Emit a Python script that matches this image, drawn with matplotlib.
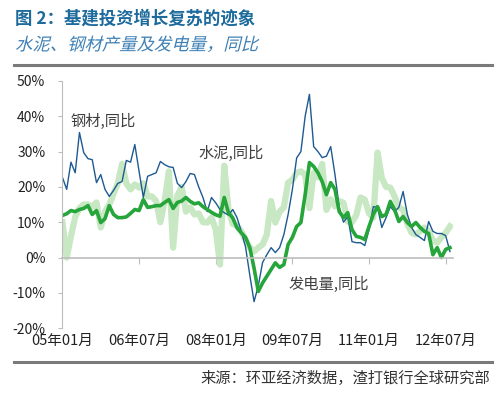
import matplotlib
matplotlib.use("Agg")
import matplotlib.pyplot as plt
import matplotlib.patheffects as pe
from matplotlib.transforms import Affine2D
import numpy as np

plt.rcParams['font.family'] = ['Noto Sans CJK SC', 'DejaVu Sans']

# monthly, 2005-01 .. 2012-08 (yoy %)
steel = [22.7, 19.3, 27, 24, 35.4, 29.7, 28, 27.7, 21.2, 23.5, 19.3, 17.3,
         19, 21, 21.5, 27.5, 27, 32, 24.4, 17, 23, 23.5, 24, 27.2,
         26.3, 25.7, 25.5, 21, 19.8, 21.5, 23.8, 23.5, 20, 17, 13, 17,
         15.5, 13.6, 12.7, 12, 13.6, 11.3, 7.4, 3, -5, -12.5, -8, -1.4,
         0.8, 2.8, 1.4, 2.8, 6.5, 12.2, 19.3, 28.2, 30, 40, 46.2, 31.4,
         30, 28.3, 28.7, 31.4, 23.5, 14.2, 10, 11.6, 4.5, 4.2, 4.2, 3.4,
         7.9, 14.4, 14.2, 8.5, 11.3, 14.4, 13, 14.2, 18.7, 12.2, 8.5, 6.5,
         5.7, 4.8, 10.2, 7.4, 6.8, 6.8, 6.2, 1.7]

cement = [10, 0, 6, 11.5, 14, 15, 15, 14.4, 15.6, 8.5, 13, 15,
          18, 21, 26.5, 21, 19.3, 20.7, 19.8, 21, 17.3, 17.3, 16, 10,
          16, 24.4, 2.8, 17.5, 20, 13, 14.2, 12.2, 12.5, 10, 9.9, 11.3,
          8, -2, 26, 13.5, 9.5, 9, 7.4, 5, 2.8, 1.7, 2.8, 3.7,
          6.5, 16, 9.9, 13, 14.2, 21.2, 22, 24, 24.4, 23.5, 14, 24,
          22.7, 26.5, 13.5, 16.5, 14.5, 16, 15.5, 10.2, 10, 12, 17, 16.4,
          12.5, 11.3, 29.7, 22.5, 20, 19.8, 17.3, 14.2, 13.5, 9.5, 7, 6.5,
          7.5, 8.5, 7.5, 4.8, 4.2, 5.7, 7, 8.8]

power = [11.9, 12.4, 13.3, 13, 13.6, 13.9, 14.7, 12.2, 13.3, 9.9, 11, 14.7,
         12.2, 11.3, 11.3, 11.5, 12.5, 13.6, 13.3, 16.4, 14.2, 14.4, 14.7, 14.7,
         15.6, 16.4, 13.9, 15.6, 16, 17, 15.9, 15.2, 15.5, 14.4, 13.6, 12.8,
         12.1, 11.7, 17, 12.7, 11.2, 8.4, 7, 5.7, 2.8, -3, -9.6, -7.2,
         -5.3, -3.4, -1.5, -2.8, -2, 3.7, 5.7, 8.8, 9.9, 17.8, 26.9, 25.8,
         24, 21.5, 17.8, 21.2, 19.3, 13, 11.3, 12.7, 7.9, 6, 5.7, 5.1,
         8.8, 12.2, 14.4, 11.6, 12.2, 15.9, 13.6, 10.2, 11.6, 9.9, 8.8, 9.9,
         8.5, 7.4, 6.8, 0.8, 2.8, 0, 2.3, 2.8]

xtick_pos = [0, 18, 36, 54, 72, 90]
xtick_labels = ['05年01月', '06年07月', '08年01月', '09年07月', '11年01月', '12年07月']
yticks = [-20, -10, 0, 10, 20, 30, 40, 50]


class Skew(pe.AbstractPathEffect):
    # fake italic for the CJK subtitle
    def draw_path(self, renderer, gc, tpath, affine, rgbFace=None):
        renderer.draw_path(gc, tpath, Affine2D().skew_deg(14, 0) + affine, rgbFace)


fig = plt.figure(figsize=(5, 3.93), dpi=100)
ax = fig.add_axes([0.124, 0.165, 0.781, 0.629])

x = np.arange(len(steel))
ax.plot(x, cement, color='#c8e7c3', lw=4.5, solid_joinstyle='round')
ax.plot(x, steel, color='#1d5a92', lw=1.0)
ax.plot(x, power, color='#25a53a', lw=2.6)

ax.set_xlim(-0.1, 91.6)
ax.set_ylim(-20, 50)
ax.set_yticks(yticks)
ax.set_yticklabels([f'{v}%' for v in yticks])

for s in ['top', 'right']:
    ax.spines[s].set_visible(False)
ax.spines['left'].set_color('#bdbdbd')
ax.spines['bottom'].set_position(('data', 0))
ax.spines['bottom'].set_color('#bdbdbd')
ax.spines['bottom'].set_linewidth(1.2)
ax.set_xticks(xtick_pos)
ax.tick_params(axis='x', direction='out', length=4, color='#bdbdbd', labelbottom=False)
ax.tick_params(axis='y', direction='out', length=3, color='#bdbdbd', labelsize=10,
               labelcolor='#222222', pad=9)

sec = ax.secondary_xaxis('bottom')
sec.set_xticks(xtick_pos)
sec.set_xticklabels(xtick_labels)
sec.spines['bottom'].set_visible(False)
sec.tick_params(length=0, labelsize=10.5, labelcolor='#222222', pad=4)

ax.text(1.8, 37.3, '钢材,同比', fontsize=11, color='#404040')
ax.text(32, 28.3, '水泥,同比', fontsize=11, color='#404040')
ax.text(53, -8.8, '发电量,同比', fontsize=11, color='#404040')

fig.text(0.03, 0.953, '图 2：基建投资增长复苏的迹象', fontsize=12.5, fontweight='bold',
         color='#1d6a9c', va='center')
fig.text(0.03, 0.885, '水泥、钢材产量及发电量，同比', fontsize=12.5, color='#3f80b5',
         va='center', path_effects=[Skew()])
fig.add_artist(plt.Line2D([0.028, 0.984], [0.835, 0.835], color='#7a7a7a', lw=2.2))
fig.add_artist(plt.Line2D([0.028, 0.984], [0.078, 0.078], color='#7a7a7a', lw=2.2))
fig.text(0.98, 0.038, '来源：环亚经济数据，渣打银行全球研究部', fontsize=11,
         color='#333333', ha='right', va='center')

fig.savefig('out.png', dpi=100)
